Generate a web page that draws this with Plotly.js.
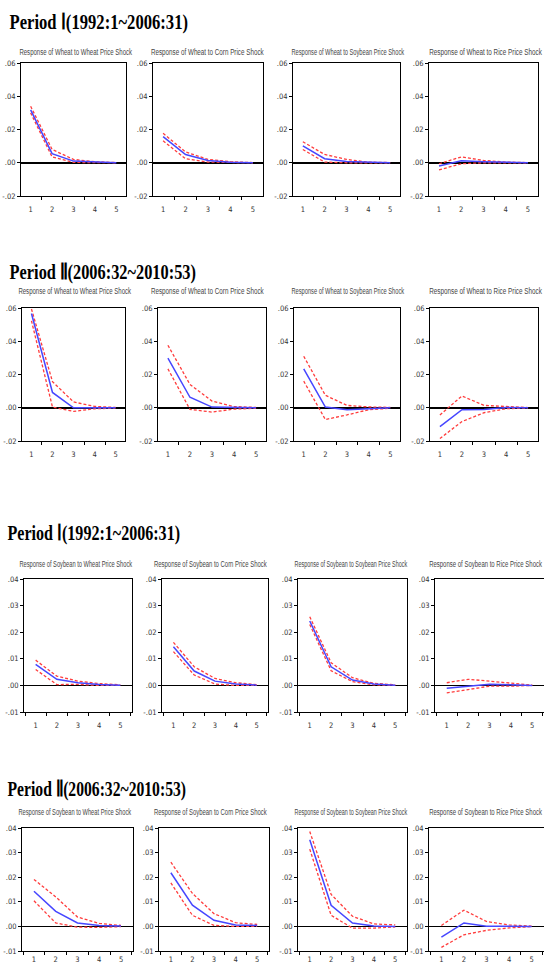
<!DOCTYPE html>
<html>
<head>
<meta charset="utf-8">
<script src="https://cdn.plot.ly/plotly-3.0.1.min.js"></script>
<style>html,body{margin:0;padding:0;background:#fff;}#chart{width:544px;height:967px;}</style>
</head>
<body>
<div id="chart"></div>
<script>
// ---------- DATA ----------
const horizon = [1, 2, 3, 4, 5];

const blockTitles = ["Period Ⅰ(1992:1~2006:31)", "Period Ⅱ(2006:32~2010:53)", "Period Ⅰ(1992:1~2006:31)", "Period Ⅱ(2006:32~2010:53)"];
const wheatPanelTitles = ["Response of Wheat to Wheat Price Shock", "Response of Wheat to Corn Price Shock", "Response of Wheat to Soybean Price Shock", "Response of Wheat to Rice Price Shock"];
const soyPanelTitles = ["Response of Soybean to Wheat Price Shock", "Response of Soybean to Corn Price Shock", "Response of Soybean to Soybean Price Shock", "Response of Soybean to Rice Price Shock"];

const wheatTickVals = [-0.02, 0, 0.02, 0.04, 0.06];
const wheatTickText = ["-.02", ".00", ".02", ".04", ".06"];
const soyTickVals = [-0.01, 0, 0.01, 0.02, 0.03, 0.04];
const soyTickText = ["-.01", ".00", ".01", ".02", ".03", ".04"];
const xTickVals = [1, 2, 3, 4, 5];
const xTickText = ["1", "2", "3", "4", "5"];

// Period I, Wheat
const p1WheatWheat_mid = [0.0318, 0.0055, 0.0010, 0.0003, 0.0000];
const p1WheatWheat_hi  = [0.0340, 0.0080, 0.0020, 0.0006, 0.0001];
const p1WheatWheat_lo  = [0.0300, 0.0035, 0.0002, 0.0000, 0.0000];
const p1WheatCorn_mid  = [0.0157, 0.0049, 0.0014, 0.0003, 0.0000];
const p1WheatCorn_hi   = [0.0177, 0.0065, 0.0020, 0.0006, 0.0001];
const p1WheatCorn_lo   = [0.0132, 0.0024, 0.0004, 0.0000, 0.0000];
const p1WheatSoy_mid   = [0.0102, 0.0024, 0.0008, 0.0002, 0.0000];
const p1WheatSoy_hi    = [0.0126, 0.0050, 0.0020, 0.0004, 0.0001];
const p1WheatSoy_lo    = [0.0080, 0.0004, 0.0000, 0.0000, 0.0000];
const p1WheatRice_mid  = [-0.0020, 0.0012, 0.0006, 0.0001, 0.0000];
const p1WheatRice_hi   = [-0.0006, 0.0035, 0.0014, 0.0004, 0.0001];
const p1WheatRice_lo   = [-0.0043, -0.0006, 0.0000, 0.0000, 0.0000];

// Period II, Wheat
const p2WheatWheat_mid = [0.0567, 0.0092, 0.0000, 0.0000, 0.0000];
const p2WheatWheat_hi  = [0.0594, 0.0157, 0.0035, 0.0008, 0.0002];
const p2WheatWheat_lo  = [0.0523, 0.0004, -0.0022, -0.0006, -0.0002];
const p2WheatCorn_mid  = [0.0299, 0.0063, 0.0004, 0.0001, 0.0000];
const p2WheatCorn_hi   = [0.0376, 0.0140, 0.0040, 0.0007, 0.0002];
const p2WheatCorn_lo   = [0.0234, -0.0010, -0.0026, -0.0008, -0.0003];
const p2WheatSoy_mid   = [0.0234, 0.0004, -0.0012, -0.0004, 0.0000];
const p2WheatSoy_hi    = [0.0310, 0.0075, 0.0014, 0.0005, 0.0002];
const p2WheatSoy_lo    = [0.0160, -0.0071, -0.0043, -0.0012, -0.0003];
const p2WheatRice_mid  = [-0.0114, -0.0012, -0.0010, 0.0001, 0.0000];
const p2WheatRice_hi   = [-0.0043, 0.0071, 0.0014, 0.0006, 0.0001];
const p2WheatRice_lo   = [-0.0185, -0.0083, -0.0030, -0.0006, -0.0001];

// Period I, Soybean
const p1SoyWheat_mid = [0.0079, 0.0023, 0.0010, 0.0003, 0.0001];
const p1SoyWheat_hi  = [0.0095, 0.0035, 0.0016, 0.0007, 0.0002];
const p1SoyWheat_lo  = [0.0060, 0.0003, 0.0004, 0.0000, 0.0000];
const p1SoyCorn_mid  = [0.0145, 0.0054, 0.0016, 0.0005, 0.0001];
const p1SoyCorn_hi   = [0.0162, 0.0070, 0.0026, 0.0010, 0.0003];
const p1SoyCorn_lo   = [0.0127, 0.0039, 0.0005, 0.0000, 0.0000];
const p1SoySoy_mid   = [0.0242, 0.0070, 0.0020, 0.0005, 0.0001];
const p1SoySoy_hi    = [0.0258, 0.0085, 0.0029, 0.0008, 0.0002];
const p1SoySoy_lo    = [0.0229, 0.0055, 0.0014, 0.0002, 0.0000];
const p1SoyRice_mid  = [-0.0011, -0.0003, 0.0004, 0.0002, 0.0000];
const p1SoyRice_hi   = [0.0010, 0.0023, 0.0016, 0.0008, 0.0001];
const p1SoyRice_lo   = [-0.0028, -0.0015, -0.0003, -0.0003, 0.0000];

// Period II, Soybean
const p2SoyWheat_mid = [0.0143, 0.0061, 0.0014, 0.0004, 0.0002];
const p2SoyWheat_hi  = [0.0191, 0.0120, 0.0038, 0.0012, 0.0004];
const p2SoyWheat_lo  = [0.0104, 0.0014, -0.0003, -0.0004, -0.0001];
const p2SoyCorn_mid  = [0.0218, 0.0086, 0.0025, 0.0006, 0.0004];
const p2SoyCorn_hi   = [0.0261, 0.0134, 0.0052, 0.0015, 0.0008];
const p2SoyCorn_lo   = [0.0177, 0.0045, 0.0004, 0.0000, 0.0000];
const p2SoySoy_mid   = [0.0352, 0.0086, 0.0014, 0.0002, 0.0000];
const p2SoySoy_hi    = [0.0386, 0.0130, 0.0041, 0.0010, 0.0006];
const p2SoySoy_lo    = [0.0314, 0.0045, -0.0007, -0.0007, -0.0002];
const p2SoyRice_mid  = [-0.0044, 0.0014, 0.0001, 0.0000, 0.0000];
const p2SoyRice_hi   = [0.0004, 0.0066, 0.0020, 0.0006, 0.0001];
const p2SoyRice_lo   = [-0.0085, -0.0034, -0.0016, -0.0006, -0.0001];

const blocks = [
  {panels: [[p1WheatWheat_mid, p1WheatWheat_hi, p1WheatWheat_lo], [p1WheatCorn_mid, p1WheatCorn_hi, p1WheatCorn_lo], [p1WheatSoy_mid, p1WheatSoy_hi, p1WheatSoy_lo], [p1WheatRice_mid, p1WheatRice_hi, p1WheatRice_lo]], titles: wheatPanelTitles, tv: wheatTickVals, tt: wheatTickText},
  {panels: [[p2WheatWheat_mid, p2WheatWheat_hi, p2WheatWheat_lo], [p2WheatCorn_mid, p2WheatCorn_hi, p2WheatCorn_lo], [p2WheatSoy_mid, p2WheatSoy_hi, p2WheatSoy_lo], [p2WheatRice_mid, p2WheatRice_hi, p2WheatRice_lo]], titles: wheatPanelTitles, tv: wheatTickVals, tt: wheatTickText},
  {panels: [[p1SoyWheat_mid, p1SoyWheat_hi, p1SoyWheat_lo], [p1SoyCorn_mid, p1SoyCorn_hi, p1SoyCorn_lo], [p1SoySoy_mid, p1SoySoy_hi, p1SoySoy_lo], [p1SoyRice_mid, p1SoyRice_hi, p1SoyRice_lo]], titles: soyPanelTitles, tv: soyTickVals, tt: soyTickText},
  {panels: [[p2SoyWheat_mid, p2SoyWheat_hi, p2SoyWheat_lo], [p2SoyCorn_mid, p2SoyCorn_hi, p2SoyCorn_lo], [p2SoySoy_mid, p2SoySoy_hi, p2SoySoy_lo], [p2SoyRice_mid, p2SoyRice_hi, p2SoyRice_lo]], titles: soyPanelTitles, tv: soyTickVals, tt: soyTickText}
];

// ---------- LAYOUT GEOMETRY (pixels) ----------
const W = 544, H = 967;
const geo = [
  {xs: [[21,126],[153,263],[293,400],[429,538]], top: 63, bot: 196, lblOff: 6, tY: 21, tX: 99, tLen: 178, subY: 52, subX: [76,207,348,485], xr: [0.55, 5.45], yr: [-0.02, 0.06]},
  {xs: [[22,125],[158,266],[294,400],[430,538]], top: 308, bot: 441, lblOff: 6, tY: 272, tX: 103, tLen: 187, subY: 291, subX: [75,207,348,485], xr: [0.55, 5.45], yr: [-0.02, 0.06]},
  {xs: [[24,132],[162,268],[298,407],[435,544]], top: 579, bot: 712, lblOff: 6, tY: 532, tX: 94, tLen: 172, subY: 563, subX: [76,210,351,485], xr: [0.45, 5.55], yr: [-0.01, 0.04]},
  {xs: [[22,133],[159,269],[298,407],[429,544]], top: 828, bot: 951, lblOff: 1, tY: 788, tX: 97, tLen: 179, subY: 811, subX: [75,210,351,485], xr: [0.45, 5.55], yr: [-0.01, 0.04]}
];

const traces = [];
const annLengths = [];
const layout = {
  width: W, height: H,
  margin: {l: 0, r: 0, t: 0, b: 0},
  paper_bgcolor: '#fff', plot_bgcolor: '#fff',
  showlegend: false,
  annotations: []
};
const tickFont = {family: 'DejaVu Sans Condensed, Liberation Sans Narrow, sans-serif', size: 7.5, color: '#333'};
const blue = 'rgb(70,70,255)';
const red = 'rgb(255,60,60)';

let n = 0;
blocks.forEach((b, bi) => {
  const g = geo[bi];
  layout.annotations.push({
    text: blockTitles[bi], xref: 'paper', yref: 'paper', x: g.tX / W, y: 1 - g.tY / H,
    xanchor: 'center', yanchor: 'middle', showarrow: false,
    font: {family: 'Liberation Serif, Times New Roman, serif', size: 22, color: '#000', weight: 700}
  });
  annLengths.push(g.tLen);
  b.panels.forEach((p, pi) => {
    n += 1;
    const xa = n === 1 ? 'xaxis' : 'xaxis' + n;
    const ya = n === 1 ? 'yaxis' : 'yaxis' + n;
    const xr = n === 1 ? 'x' : 'x' + n;
    const yr = n === 1 ? 'y' : 'y' + n;
    const [x0, x1] = g.xs[pi];
    const cutRight = x1 >= 544;
    layout[xa] = {
      domain: [x0 / W, Math.min(1, x1 / W)], anchor: yr, range: g.xr,
      tickmode: 'array', tickvals: xTickVals, ticktext: xTickText, ticks: '', ticklabelstandoff: g.lblOff,
      minor: {tickmode: 'linear', tick0: 0.5, dtick: 1, ticks: 'outside', ticklen: 3, tickwidth: 1, tickcolor: '#000', showgrid: false},
      showline: true, linecolor: '#000', linewidth: 1, mirror: true,
      showgrid: false, zeroline: false, tickfont: tickFont, fixedrange: true
    };
    layout[ya] = {
      domain: [1 - g.bot / H, 1 - g.top / H], anchor: xr, range: g.yr,
      tickvals: b.tv, ticktext: b.tt, ticks: 'outside', ticklen: 3, tickwidth: 1, tickcolor: '#000',
      showline: true, linecolor: '#000', linewidth: 1, mirror: cutRight ? false : true,
      showgrid: false, zeroline: true, zerolinecolor: '#000', zerolinewidth: 1.8,
      tickfont: tickFont, fixedrange: true
    };
    layout.annotations.push({
      text: b.titles[pi], xref: 'paper', yref: 'paper', x: g.subX[pi] / W, y: 1 - g.subY / H,
      xanchor: 'center', yanchor: 'middle', showarrow: false,
      font: {family: 'Liberation Sans, Arial, sans-serif', size: 9.5, color: '#444'}
    });
    annLengths.push(113);
    const [mid, hi, lo] = p;
    traces.push({x: horizon, y: hi, xaxis: xr, yaxis: yr, mode: 'lines', line: {color: red, width: 1.3, dash: '3px,2px'}, hoverinfo: 'skip'});
    traces.push({x: horizon, y: lo, xaxis: xr, yaxis: yr, mode: 'lines', line: {color: red, width: 1.3, dash: '3px,2px'}, hoverinfo: 'skip'});
    traces.push({x: horizon, y: mid, xaxis: xr, yaxis: yr, mode: 'lines', line: {color: blue, width: 1.5}, hoverinfo: 'skip'});
  });
});

Plotly.newPlot('chart', traces, layout, {staticPlot: true, displayModeBar: false}).then(gd => {
  const texts = gd.querySelectorAll('text.annotation-text');
  texts.forEach((t, i) => {
    const target = annLengths[i];
    if (!target) return;
    const bb = t.getBBox();
    if (!bb.width) return;
    const sx = target / bb.width;
    const cx = bb.x + bb.width / 2;
    const prev = t.getAttribute('transform') || '';
    t.setAttribute('transform', 'translate(' + cx + ',0) scale(' + sx + ',1) translate(' + (-cx) + ',0) ' + prev);
  });
});
</script>
</body>
</html>
